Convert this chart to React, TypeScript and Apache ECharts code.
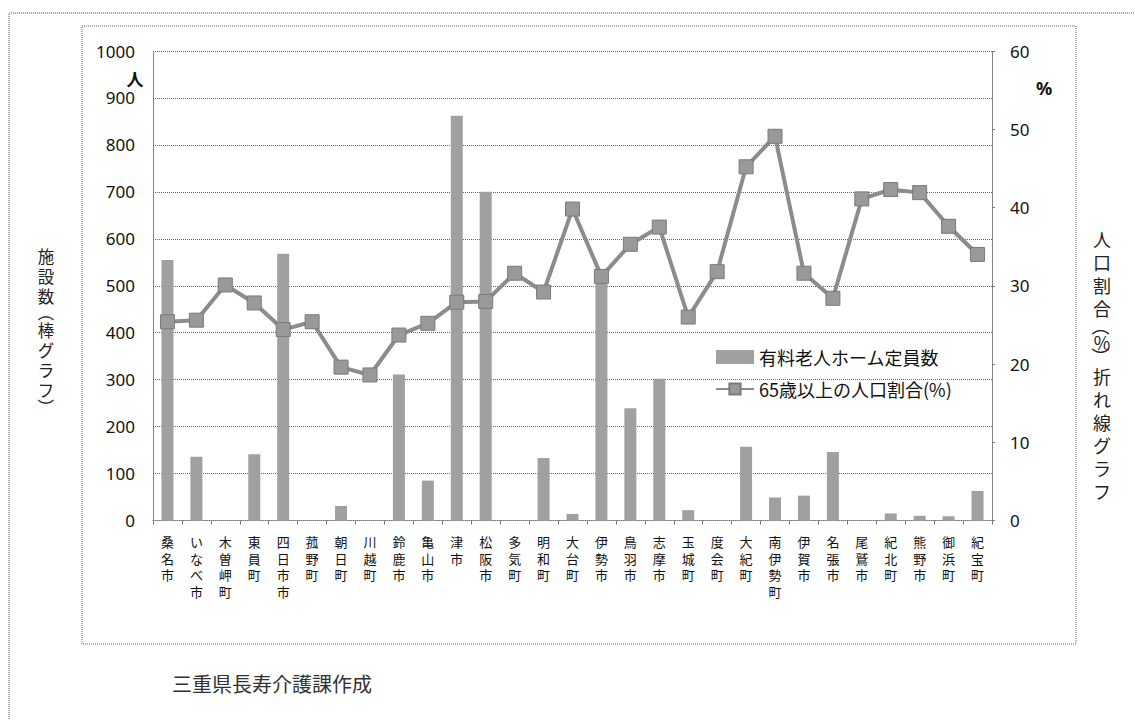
import React, { useEffect, useRef } from "react";
import * as echarts from "echarts";

const categories = [
  "桑名市", "いなべ市", "木曽岬町", "東員町", "四日市市", "菰野町", "朝日町", "川越町",
  "鈴鹿市", "亀山市", "津市", "松阪市", "多気町", "明和町", "大台町", "伊勢市",
  "鳥羽市", "志摩市", "玉城町", "度会町", "大紀町", "南伊勢町", "伊賀市", "名張市",
  "尾鷲市", "紀北町", "熊野市", "御浜町", "紀宝町",
];

const capacity = [
  555, 136, 0, 141, 568, 0, 31, 0, 311, 85, 862, 700, 0, 133, 14, 520,
  239, 302, 22, 0, 157, 49, 53, 146, 0, 15, 10, 9, 63,
];

const elderlyRatio = [
  25.4, 25.6, 30.1, 27.8, 24.4, 25.4, 19.6, 18.6, 23.7, 25.2, 27.9, 28.0, 31.6, 29.2, 39.8, 31.2,
  35.3, 37.5, 26.0, 31.8, 45.2, 49.1, 31.6, 28.4, 41.1, 42.3, 41.9, 37.6, 34.0,
];

const barName = "有料老人ホーム定員数";
const lineName = "65歳以上の人口割合(%)";
const leftTitle = "施設数（棒グラフ）";
const rightTitle = "人口割合（%）折れ線グラフ";
const footer = "三重県長寿介護課作成";

const CJK = '"Noto Sans CJK JP", "Noto Sans", sans-serif';

function verticalText(
  text: string,
  cx: number,
  top: number,
  fontSize: number,
  fullStep: number,
  narrowStep: number
) {
  const out: any[] = [];
  let y = top;
  for (const ch of text.split("")) {
    const isParen = ch === "（" || ch === "）" || ch === "(" || ch === ")";
    const isNarrow = isParen || ch === "%";
    const step = isNarrow ? narrowStep : fullStep;
    out.push({
      type: "text",
      x: cx,
      y: y + step / 2,
      rotation: isParen ? -Math.PI / 2 : 0,
      style: {
        text: ch,
        fontSize,
        fill: "#222",
        fontFamily: CJK,
        align: "center",
        verticalAlign: "middle",
      },
    });
    y += step;
  }
  return out;
}

export default function App() {
  const ref = useRef<HTMLDivElement>(null);
  useEffect(() => {
    if (!ref.current) return;
    const chart = echarts.init(ref.current, null, { renderer: "svg" });
    const dotted = { color: "#777", type: [1, 1] as any, width: 1 };
    chart.setOption({
      animation: false,
      backgroundColor: "#fff",
      grid: { left: 153, right: 143, top: 51, bottom: 199.5, containLabel: false },
      legend: {
        left: 710,
        top: 343,
        orient: "vertical",
        itemGap: 14,
        itemWidth: 38,
        itemHeight: 14,
        textStyle: { fontSize: 18, color: "#111", fontFamily: CJK },
        data: [
          { name: barName, icon: "rect", itemStyle: { color: "#a0a0a0" } },
          { name: lineName },
        ],
      },
      xAxis: {
        type: "category",
        data: categories,
        axisLine: { show: true, lineStyle: dotted },
        axisTick: { show: true, length: 4, lineStyle: { color: "#777" } },
        axisLabel: {
          interval: 0,
          margin: 13,
          fontSize: 13,
          lineHeight: 16.5,
          color: "#111",
          fontFamily: CJK,
          verticalAlign: "top",
          formatter: (v: string) => v.split("").join("\n"),
        },
      },
      yAxis: [
        {
          type: "value",
          min: 0,
          max: 1000,
          interval: 100,
          axisLine: { show: true, lineStyle: dotted },
          axisTick: { show: false },
          splitLine: { show: true, lineStyle: { color: "#666", type: [1, 1] as any, width: 1 } },
          axisLabel: {
            margin: 18,
            fontSize: 17,
            color: "#111",
            fontFamily: '"Noto Sans", sans-serif',
            formatter: (v: number) => String(v),
          },
        },
        {
          type: "value",
          min: 0,
          max: 60,
          interval: 10,
          position: "right",
          axisLine: { show: true, lineStyle: dotted },
          axisTick: { show: true, length: 3, lineStyle: { color: "#777" } },
          splitLine: { show: false },
          axisLabel: {
            margin: 18,
            fontSize: 17,
            color: "#111",
            fontFamily: '"Noto Sans", sans-serif',
            formatter: (v: number) => String(v),
          },
        },
      ],
      series: [
        {
          name: barName,
          type: "bar",
          data: capacity,
          barWidth: 12,
          itemStyle: { color: "#a0a0a0" },
          yAxisIndex: 0,
          z: 2,
        },
        {
          name: lineName,
          type: "line",
          data: elderlyRatio,
          yAxisIndex: 1,
          symbol: "rect",
          symbolSize: 14,
          lineStyle: { color: "#8c8c8c", width: 4 },
          itemStyle: { color: "#999999", borderColor: "#7a7a7a", borderWidth: 1 },
          z: 3,
        },
      ],
      graphic: [
        {
          type: "rect",
          shape: { x: 9, y: 13, width: 1140, height: 720 },
          style: { fill: "none", stroke: "#555", lineWidth: 1, lineDash: [1, 1] },
          silent: true,
        },
        {
          type: "rect",
          shape: { x: 82, y: 26, width: 994, height: 618 },
          style: { fill: "none", stroke: "#666", lineWidth: 1, lineDash: [1, 1] },
          silent: true,
        },
        {
          type: "text",
          x: 135,
          y: 78,
          style: {
            text: "人",
            fontSize: 17,
            fontWeight: "bold",
            fill: "#111",
            fontFamily: CJK,
            align: "center",
            verticalAlign: "middle",
          },
        },
        {
          type: "text",
          x: 1044,
          y: 88,
          style: {
            text: "%",
            fontSize: 18,
            fontWeight: "bold",
            fill: "#111",
            fontFamily: '"Noto Sans", sans-serif',
            align: "center",
            verticalAlign: "middle",
          },
        },
        ...verticalText(leftTitle, 46, 246, 16.5, 20, 14),
        ...verticalText(rightTitle, 1102, 227, 18, 23, 15),
        {
          type: "text",
          x: 172,
          y: 683,
          style: {
            text: footer,
            fontSize: 20,
            fill: "#333",
            fontFamily: CJK,
            align: "left",
            verticalAlign: "middle",
          },
        },
      ],
    });
    return () => chart.dispose();
  }, []);
  return <div ref={ref} style={{ width: 1135, height: 720, position: "absolute", left: 0, top: 0 }} />;
}
